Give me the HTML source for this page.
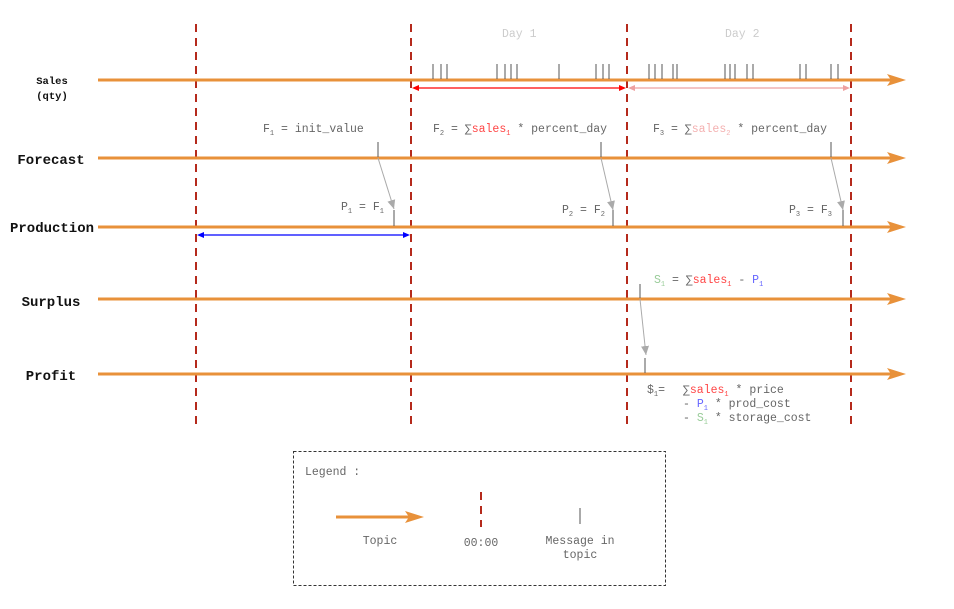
<!DOCTYPE html>
<html><head><meta charset="utf-8"><style>
html,body{margin:0;padding:0;background:#fff;}
svg{display:block;}
text{font-family:"Liberation Mono",monospace;font-size:11.5px;fill:#666;}
.lbl{font-family:"Liberation Mono",monospace;font-weight:bold;fill:#111;}
.s{font-size:7px;}
</style></head><body>
<svg width="954" height="609" viewBox="0 0 954 609" xmlns="http://www.w3.org/2000/svg">
<defs>
<marker id="ah" markerWidth="10" markerHeight="10" refX="9" refY="5" orient="auto" markerUnits="userSpaceOnUse"><path d="M0,1 L9,5 L0,9 Z" fill="#aaa"/></marker>
</defs>
<g stroke="#b52a1c" stroke-width="2" stroke-dasharray="8,6">
<line x1="196" y1="24" x2="196" y2="430"/>
<line x1="411" y1="24" x2="411" y2="430"/>
<line x1="627" y1="24" x2="627" y2="430"/>
<line x1="851" y1="24" x2="851" y2="430"/>
</g>
<g stroke="#e8913a" stroke-width="3">
<line x1="98" y1="80" x2="892" y2="80"/>
<line x1="98" y1="158" x2="892" y2="158"/>
<line x1="98" y1="227" x2="892" y2="227"/>
<line x1="98" y1="299" x2="892" y2="299"/>
<line x1="98" y1="374" x2="892" y2="374"/>
</g>
<g fill="#e8913a">
<path d="M887,74 L906,80 L887,86 L891,80 Z"/>
<path d="M887,152 L906,158 L887,164 L891,158 Z"/>
<path d="M887,221 L906,227 L887,233 L891,227 Z"/>
<path d="M887,293 L906,299 L887,305 L891,299 Z"/>
<path d="M887,368 L906,374 L887,380 L891,374 Z"/>
</g>
<text class="lbl" x="52" y="84" text-anchor="middle" style="font-size:10.5px">Sales</text>
<text class="lbl" x="52" y="99" text-anchor="middle" style="font-size:10.5px">(qty)</text>
<text class="lbl" x="51" y="164" text-anchor="middle" style="font-size:14px">Forecast</text>
<text class="lbl" x="52" y="232" text-anchor="middle" style="font-size:14px">Production</text>
<text class="lbl" x="51" y="306" text-anchor="middle" style="font-size:14px">Surplus</text>
<text class="lbl" x="51" y="380" text-anchor="middle" style="font-size:14px">Profit</text>
<text x="502" y="37" style="fill:#ccc">Day 1</text>
<text x="725" y="37" style="fill:#ccc">Day 2</text>
<g stroke="#555" stroke-width="1">
<line x1="433" y1="64" x2="433" y2="79"/><line x1="441" y1="64" x2="441" y2="79"/><line x1="447" y1="64" x2="447" y2="79"/>
<line x1="497" y1="64" x2="497" y2="79"/><line x1="505" y1="64" x2="505" y2="79"/><line x1="511" y1="64" x2="511" y2="79"/><line x1="517" y1="64" x2="517" y2="79"/>
<line x1="559" y1="64" x2="559" y2="79"/>
<line x1="596" y1="64" x2="596" y2="79"/><line x1="603" y1="64" x2="603" y2="79"/><line x1="609" y1="64" x2="609" y2="79"/>
<line x1="649" y1="64" x2="649" y2="79"/><line x1="655" y1="64" x2="655" y2="79"/><line x1="662" y1="64" x2="662" y2="79"/><line x1="673" y1="64" x2="673" y2="79"/><line x1="677" y1="64" x2="677" y2="79"/>
<line x1="725" y1="64" x2="725" y2="79"/><line x1="730" y1="64" x2="730" y2="79"/><line x1="735" y1="64" x2="735" y2="79"/><line x1="747" y1="64" x2="747" y2="79"/><line x1="753" y1="64" x2="753" y2="79"/>
<line x1="800" y1="64" x2="800" y2="79"/><line x1="806" y1="64" x2="806" y2="79"/>
<line x1="831" y1="64" x2="831" y2="79"/><line x1="838" y1="64" x2="838" y2="79"/>
<line x1="378" y1="142" x2="378" y2="157"/><line x1="601" y1="142" x2="601" y2="157"/><line x1="831" y1="142" x2="831" y2="157"/>
<line x1="394" y1="210" x2="394" y2="226"/><line x1="613" y1="210" x2="613" y2="226"/><line x1="843" y1="210" x2="843" y2="226"/>
<line x1="640" y1="284" x2="640" y2="298"/><line x1="645" y1="358" x2="645" y2="373"/>
</g>
<g stroke="#aaa" stroke-width="1" marker-end="url(#ah)">
<line x1="378" y1="158" x2="394" y2="209"/>
<line x1="601" y1="158" x2="613" y2="210"/>
<line x1="831" y1="158" x2="843" y2="210"/>
<line x1="640" y1="299" x2="646" y2="355"/>
</g>
<line x1="414" y1="88" x2="624" y2="88" stroke="#f00" stroke-width="1.2"/>
<path d="M412,88 L419,85 L419,91 Z M626,88 L619,85 L619,91 Z" fill="#f00"/>
<line x1="630" y1="88" x2="848" y2="88" stroke="#eea0a0" stroke-width="1.2"/>
<path d="M628,88 L635,85 L635,91 Z M850,88 L843,85 L843,91 Z" fill="#eea0a0"/>
<line x1="199" y1="235" x2="408" y2="235" stroke="#00f" stroke-width="1.2"/>
<path d="M197,235 L204,232 L204,238 Z M410,235 L403,232 L403,238 Z" fill="#00f"/>
<text x="263" y="132">F<tspan class="s" dy="3">1</tspan><tspan dy="-3"> = init_value</tspan></text>
<text x="433" y="132">F<tspan class="s" dy="3">2</tspan><tspan dy="-3"> = ∑</tspan><tspan style="fill:#f44">sales</tspan><tspan class="s" dy="3" style="fill:#f44">1</tspan><tspan dy="-3"> * percent_day</tspan></text>
<text x="653" y="132">F<tspan class="s" dy="3">3</tspan><tspan dy="-3"> = ∑</tspan><tspan style="fill:#f4b0b0">sales</tspan><tspan class="s" dy="3" style="fill:#f4b0b0">2</tspan><tspan dy="-3"> * percent_day</tspan></text>
<text x="341" y="210">P<tspan class="s" dy="3">1</tspan><tspan dy="-3"> = F</tspan><tspan class="s" dy="3">1</tspan></text>
<text x="562" y="213">P<tspan class="s" dy="3">2</tspan><tspan dy="-3"> = F</tspan><tspan class="s" dy="3">2</tspan></text>
<text x="789" y="213">P<tspan class="s" dy="3">3</tspan><tspan dy="-3"> = F</tspan><tspan class="s" dy="3">3</tspan></text>
<text x="654" y="283"><tspan style="fill:#9c9">S</tspan><tspan class="s" dy="3" style="fill:#9c9">1</tspan><tspan dy="-3"> = ∑</tspan><tspan style="fill:#f44">sales</tspan><tspan class="s" dy="3" style="fill:#f44">1</tspan><tspan dy="-3"> - </tspan><tspan style="fill:#66f">P</tspan><tspan class="s" dy="3" style="fill:#66f">1</tspan></text>
<text x="647" y="393">$<tspan class="s" dy="3">1</tspan><tspan dy="-3">=</tspan></text>
<text x="683" y="393">∑<tspan style="fill:#f44">sales</tspan><tspan class="s" dy="3" style="fill:#f44">1</tspan><tspan dy="-3"> * price</tspan></text>
<text x="683" y="407">- <tspan style="fill:#66f">P</tspan><tspan class="s" dy="3" style="fill:#66f">1</tspan><tspan dy="-3"> * prod_cost</tspan></text>
<text x="683" y="421">- <tspan style="fill:#9c9">S</tspan><tspan class="s" dy="3" style="fill:#9c9">1</tspan><tspan dy="-3"> * storage_cost</tspan></text>
<rect x="293.5" y="451.5" width="372" height="134" fill="none" stroke="#333" stroke-width="1" stroke-dasharray="3,2"/>
<text x="305" y="475">Legend :</text>
<line x1="336" y1="517" x2="412" y2="517" stroke="#e8913a" stroke-width="3"/>
<path d="M405,511 L424,517 L405,523 L409,517 Z" fill="#e8913a"/>
<line x1="481" y1="492" x2="481" y2="527" stroke="#b52a1c" stroke-width="2" stroke-dasharray="8,6"/>
<line x1="580" y1="508" x2="580" y2="524" stroke="#555" stroke-width="1"/>
<text x="380" y="544" text-anchor="middle">Topic</text>
<text x="481" y="546" text-anchor="middle">00:00</text>
<text x="580" y="544" text-anchor="middle">Message in</text>
<text x="580" y="558" text-anchor="middle">topic</text>
</svg>
</body></html>
